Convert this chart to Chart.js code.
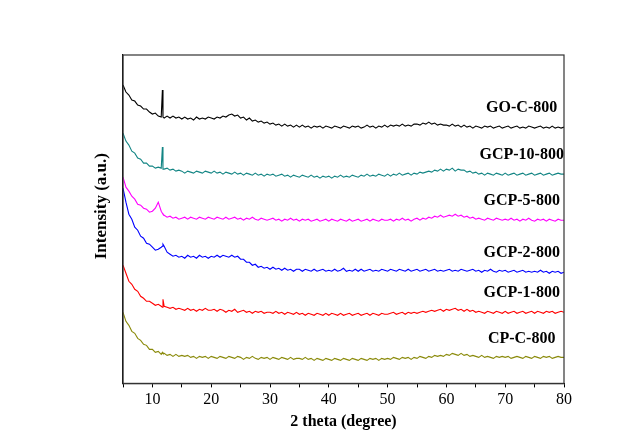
<!DOCTYPE html>
<html>
<head>
<meta charset="utf-8">
<script src="https://cdn.jsdelivr.net/npm/chart.js@4/dist/chart.umd.min.js"></script>
<style>
  body { margin: 0; background: #fff; }
  #wrap { width: 636px; height: 448px; }
</style>
</head>
<body>
<div id="wrap"><canvas id="xrd" width="636" height="448"></canvas></div>
<script>
// 2 theta sampled every 0.5 degree, 5..80, plus two extra samples for the sharp line near 11.7
const twoTheta = [];
for (let t = 5; t <= 80; t += 0.5) {
  twoTheta.push(t);
  if (t === 11.5) twoTheta.push(11.7, 11.8);
}

// Stacked intensities (a.u., curves already offset)
const goC800 = [
  298, 291, 288, 283, 282, 278, 277, 274, 274, 271,
  269, 270, 267, 266, 293, 266, 265, 267, 265, 267, 265, 266,
  264, 266, 264, 265, 263, 266, 264, 265, 264, 266,
  265, 264, 266, 265, 267, 266, 268, 269, 267, 268,
  265, 266, 263, 265, 262, 263, 261, 262, 260, 261,
  259, 260, 258, 259, 257, 259, 257, 258, 256, 258,
  256, 258, 256, 257, 255, 257, 256, 257, 255, 257,
  256, 255, 257, 256, 255, 257, 256, 255, 257, 256,
  257, 255, 256, 258, 256, 257, 255, 257, 256, 258,
  256, 258, 257, 258, 257, 259, 257, 258, 257, 259,
  259, 258, 260, 259, 261, 259, 260, 258, 259, 258,
  258, 257, 259, 257, 258, 256, 258, 256, 257, 255,
  257, 256, 255, 257, 256, 257, 255, 256, 257, 255,
  256, 257, 255, 256, 257, 255, 256, 255, 257, 256,
  255, 256, 257, 255, 256, 255, 257, 255, 256, 255,
  256
];
const gcp10800 = [
  250, 242, 238, 232, 230, 225, 224, 220, 220, 217,
  217, 215, 216, 215, 236, 214, 214, 215, 213, 214, 212, 213,
  212, 210, 212, 211, 210, 212, 211, 210, 212, 211,
  210, 212, 210, 211, 209, 211, 210, 209, 211, 209,
  210, 208, 210, 209, 208, 210, 208, 209, 207, 209,
  208, 209, 207, 208, 209, 207, 208, 206, 208, 207,
  206, 208, 207, 206, 208, 206, 207, 205, 207, 206,
  207, 205, 207, 206, 208, 206, 207, 206, 208, 207,
  206, 208, 207, 209, 207, 208, 207, 209, 208, 207,
  209, 207, 209, 208, 210, 208, 209, 210, 208, 210,
  209, 211, 210, 211, 212, 211, 213, 212, 214, 212,
  214, 213, 215, 212, 214, 213, 213, 211, 212, 210,
  211, 209, 210, 208, 210, 209, 208, 210, 209, 208,
  210, 208, 209, 210, 208, 209, 210, 208, 209, 210,
  208, 209, 210, 208, 209, 210, 208, 209, 210, 209,
  209
];
const gcp5800 = [
  206, 196, 192, 187, 184, 179, 178, 175, 174, 171,
  172, 175, 181, 172, 170, 169, 168, 166, 167, 165, 166, 164,
  165, 166, 164, 166, 165, 164, 166, 165, 164, 166,
  165, 164, 166, 165, 164, 166, 164, 165, 166, 164,
  165, 163, 165, 164, 166, 164, 163, 165, 164, 163,
  164, 165, 163, 164, 162, 164, 163, 165, 163, 164,
  162, 164, 163, 164, 162, 163, 164, 162, 163, 164,
  162, 164, 163, 162, 164, 163, 162, 164, 162, 163,
  164, 162, 163, 164, 162, 164, 163, 162, 164, 163,
  163, 164, 162, 164, 163, 165, 163, 164, 162, 164,
  165, 163, 165, 164, 166, 165, 167, 166, 168, 166,
  167, 168, 167, 169, 167, 168, 166, 167, 165, 166,
  164, 165, 164, 163, 165, 164, 163, 165, 164, 163,
  164, 163, 165, 163, 164, 162, 164, 163, 165, 163,
  162, 164, 163, 164, 162, 164, 163, 162, 164, 163,
  163
];
const gcp2800 = [
  195, 181, 169, 164, 156, 153, 147, 145, 140, 139,
  136, 133, 134, 136, 137, 139, 137, 131, 129, 127, 128, 126,
  127, 125, 128, 126, 127, 125, 128, 126, 127, 125,
  127, 126, 128, 126, 128, 127, 126, 128, 126, 127,
  124, 124, 121, 121, 118, 119, 116, 117, 115, 116,
  114, 116, 114, 115, 113, 115, 113, 114, 112, 114,
  114, 112, 114, 113, 112, 114, 112, 113, 114, 112,
  113, 112, 114, 112, 113, 115, 112, 113, 112, 114,
  112, 114, 112, 113, 114, 112, 113, 112, 114, 113,
  112, 114, 113, 112, 114, 113, 112, 114, 112, 113,
  114, 112, 113, 114, 112, 113, 114, 112, 113, 112,
  113, 114, 112, 113, 112, 114, 113, 112, 113, 114,
  112, 113, 111, 113, 112, 114, 112, 111, 113, 112,
  113, 111, 112, 113, 111, 112, 113, 111, 112, 111,
  112, 111, 113, 111, 112, 110, 112, 111, 112, 110,
  111
];
const gcp1800 = [
  118, 110, 102, 99, 94, 92, 87, 85, 82, 82,
  80, 78, 79, 77, 76, 84, 77, 76, 75, 76, 74, 75,
  74, 73, 75, 73, 74, 72, 74, 73, 75, 73,
  73, 74, 72, 74, 73, 71, 73, 72, 74, 71,
  72, 73, 71, 72, 70, 72, 71, 72, 70, 71,
  71, 70, 72, 70, 71, 69, 71, 70, 69, 71,
  69, 70, 68, 70, 69, 68, 70, 69, 68, 70,
  68, 70, 69, 68, 70, 68, 69, 70, 68, 69,
  70, 68, 69, 70, 68, 70, 69, 68, 70, 69,
  69, 70, 71, 69, 70, 71, 69, 71, 70, 71,
  70, 71, 72, 71, 72, 73, 72, 73, 74, 72,
  74, 73, 74, 75, 73, 74, 72, 74, 72, 73,
  71, 72, 71, 70, 72, 71, 70, 72, 71, 70,
  72, 70, 71, 72, 70, 71, 72, 70, 71, 72,
  70, 72, 71, 70, 72, 71, 72, 70, 71, 72,
  71
];
const cpC800 = [
  71, 62, 58, 52, 50, 45, 43, 39, 38, 34,
  34, 31, 32, 29, 31, 30, 30, 28, 29, 27, 29, 27,
  28, 27, 28, 26, 27, 25, 27, 26, 27, 25,
  27, 26, 25, 27, 26, 25, 27, 26, 25, 27,
  26, 24, 26, 25, 27, 25, 24, 26, 25, 26,
  24, 26, 25, 24, 26, 25, 24, 26, 24, 25,
  25, 24, 26, 24, 25, 23, 25, 24, 23, 25,
  24, 23, 25, 24, 23, 25, 24, 23, 25, 24,
  23, 25, 24, 23, 25, 24, 25, 23, 25, 24,
  25, 24, 26, 25, 24, 26, 25, 26, 24, 26,
  25, 27, 26, 25, 27, 26, 28, 27, 28, 27,
  29, 28, 30, 29, 28, 30, 28, 29, 27, 28,
  27, 26, 28, 26, 27, 26, 25, 27, 26, 27,
  26, 27, 25, 26, 27, 26, 25, 27, 26, 25,
  27, 26, 25, 27, 26, 27, 25, 26, 27, 26,
  26
];

const sampleNames = ['GO-C-800', 'GCP-10-800', 'GCP-5-800', 'GCP-2-800', 'GCP-1-800', 'CP-C-800'];
const sampleData = [goC800, gcp10800, gcp5800, gcp2800, gcp1800, cpC800];
const sampleColors = ['#000000', '#138584', '#ff00ff', '#0000ff', '#ff0000', '#8a8a0a'];
const xTicks = [10, 20, 30, 40, 50, 60, 70, 80];

const SERIF = "'Times New Roman', 'Liberation Serif', serif";

const datasets = sampleNames.map((name, i) => ({
  label: name,
  data: twoTheta.map((t, k) => ({ x: t, y: sampleData[i][k] })),
  borderColor: sampleColors[i],
  borderWidth: 1.1,
  pointRadius: 0,
  tension: 0,
  fill: false,
}));

// name tags sit above the tail of each curve
const curveTags = {
  id: 'curveTags',
  afterDatasetsDraw(chart) {
    let { ctx, scales: { x, y } } = chart;
    ctx.save();
    ctx.font = `bold 16px ${SERIF}`;
    ctx.fillStyle = '#000';
    ctx.textAlign = 'center';
    ctx.textBaseline = 'middle';
    sampleNames.forEach((name, i) => {
      let tail = sampleData[i][sampleData[i].length - 1];
      ctx.fillText(name, x.getPixelForValue(72.8), y.getPixelForValue(tail) - 19);
    });
    ctx.restore();
  },
};

// closed frame plus the y title, which sits a bit above the middle in the original
const frame = {
  id: 'frame',
  afterDraw(chart) {
    let { ctx, chartArea: a } = chart;
    ctx.save();
    ctx.strokeStyle = '#333';
    ctx.lineWidth = 1.2;
    ctx.strokeRect(a.left, a.top, a.right - a.left, a.bottom - a.top);

    ctx.translate(a.left - 21, (a.top + a.bottom) / 2 - 13);
    ctx.rotate(-Math.PI / 2);
    ctx.font = `bold 17px ${SERIF}`;
    ctx.fillStyle = '#000';
    ctx.textAlign = 'center';
    ctx.textBaseline = 'middle';
    ctx.fillText('Intensity (a.u.)', 0, 0);
    ctx.restore();
  },
};

new Chart(document.getElementById('xrd'), {
  type: 'line',
  data: { datasets },
  plugins: [curveTags, frame],
  options: {
    responsive: false,
    animation: false,
    layout: { padding: { left: 123, right: 72, top: 55, bottom: 17 } },
    plugins: { legend: { display: false }, tooltip: { enabled: false } },
    scales: {
      x: {
        type: 'linear',
        min: 5,
        max: 80,
        grid: { display: true, drawOnChartArea: false, drawTicks: true, tickLength: 4, tickColor: '#000' },
        border: { display: true, color: '#000', width: 1.2 },
        ticks: {
          stepSize: 5,
          autoSkip: false,
          maxRotation: 0,
          padding: 2.6,
          color: '#000',
          font: { family: SERIF, size: 16 },
          callback: v => (xTicks.includes(v) ? v : ''),
        },
        title: {
          display: true,
          text: '2 theta (degree)',
          color: '#000',
          font: { family: SERIF, size: 16, weight: 'bold' },
          padding: { top: 0, bottom: 0 },
        },
      },
      y: {
        min: 0,
        max: 328,
        grid: { display: false, drawTicks: false },
        border: { display: true, color: '#000', width: 1.2 },
        ticks: { display: false },
      },
    },
  },
});
</script>
</body>
</html>
